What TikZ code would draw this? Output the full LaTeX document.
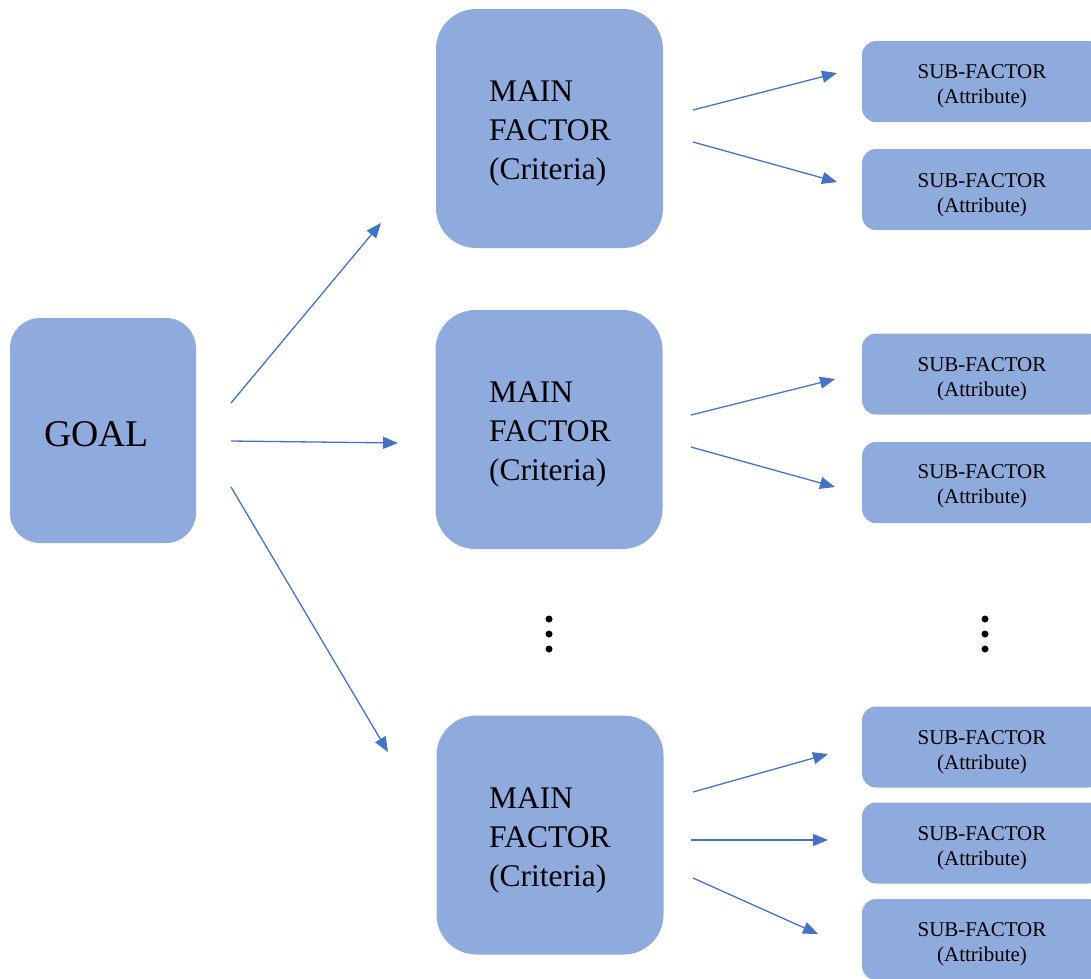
\documentclass[tikz,border=0pt]{standalone}
\usepackage{fontspec}
\setmainfont{Liberation Serif}
\usetikzlibrary{arrows.meta}
\definecolor{boxfill}{HTML}{8FAADC}
\definecolor{arrowblue}{HTML}{4472C4}
\begin{document}
\begin{tikzpicture}[x=1pt,y=-1pt,
  goalbox/.style={fill=boxfill,rounded corners=30pt,minimum width=186pt,minimum height=225pt,inner sep=0pt},
  mainbox/.style={fill=boxfill,rounded corners=40pt,minimum width=227pt,minimum height=239pt,inner sep=0pt},
  subbox/.style={fill=boxfill,rounded corners=14pt,minimum width=240pt,minimum height=81pt,inner sep=0pt},
  maintext/.style={anchor=west,align=left,font=\fontsize{31.5}{39}\selectfont,inner sep=0pt},
  subtext/.style={align=center,font=\fontsize{21}{25}\selectfont,inner sep=0pt},
  conn/.style={draw=arrowblue,line width=1.3pt,-{Triangle[length=15pt,width=12pt]}},
  dot/.style={circle,fill=black,minimum size=7pt,inner sep=0pt}
]
\useasboundingbox (0,0) rectangle (1091,978);
\begin{scope}
\clip (0,0) rectangle (1091,978);
% boxes
\node[goalbox] (goal) at (103,430.5) {};
\node[font=\fontsize{37.7}{44}\selectfont] (goaltxt) at (96.5,434) {GOAL};

\node[mainbox] (m1) at (549.5,128.5) {};
\node[maintext] (m1t) at (489,133) {MAIN\\FACTOR\\(Criteria)};
\node[mainbox] (m2) at (549,429.5) {};
\node[maintext] (m2t) at (489,434) {MAIN\\FACTOR\\(Criteria)};
\node[mainbox] (m3) at (550,835) {};
\node[maintext] (m3t) at (489,840) {MAIN\\FACTOR\\(Criteria)};

\node[subbox] (s1) at (982,81.5) {};
\node[subtext] (s1t) at (982,86) {SUB-FACTOR\\(Attribute)};
\node[subbox] (s2) at (982,189.5) {};
\node[subtext] (s2t) at (982,195) {SUB-FACTOR\\(Attribute)};
\node[subbox] (s3) at (982,374) {};
\node[subtext] (s3t) at (982,379) {SUB-FACTOR\\(Attribute)};
\node[subbox] (s4) at (982,482.5) {};
\node[subtext] (s4t) at (982,486) {SUB-FACTOR\\(Attribute)};
\node[subbox] (s5) at (982,747) {};
\node[subtext] (s5t) at (982,752) {SUB-FACTOR\\(Attribute)};
\node[subbox] (s6) at (982,843) {};
\node[subtext] (s6t) at (982,848) {SUB-FACTOR\\(Attribute)};
\node[subbox] (s7) at (982,939.5) {};
\node[subtext] (s7t) at (982,944) {SUB-FACTOR\\(Attribute)};
\end{scope}

% dots
\node[dot] (d1) at (549,619) {};
\node[dot] (d2) at (549,634) {};
\node[dot] (d3) at (549,649) {};
\node[dot] (e1) at (985,619) {};
\node[dot] (e2) at (985,634) {};
\node[dot] (e3) at (985,649) {};

% arrow end points
\coordinate (g1) at (231,403);
\coordinate (g2) at (231,441);
\coordinate (g3) at (231,487);
\coordinate (t1) at (381,223);
\coordinate (t2) at (398,443);
\coordinate (t3) at (388,752);

\coordinate (a1) at (693,110);  \coordinate (b1) at (837,73);
\coordinate (a2) at (693,142);  \coordinate (b2) at (837,182);
\coordinate (a3) at (691,415);  \coordinate (b3) at (835,379);
\coordinate (a4) at (691,447);  \coordinate (b4) at (835,487);
\coordinate (a5) at (693,792);  \coordinate (b5) at (828,754);
\coordinate (a6) at (691,840);  \coordinate (b6) at (828,840);
\coordinate (a7) at (693,878);  \coordinate (b7) at (818,934);

\draw[conn] (g1) -- (t1);
\draw[conn] (g2) -- (t2);
\draw[conn] (g3) -- (t3);
\draw[conn] (a1) -- (b1);
\draw[conn] (a2) -- (b2);
\draw[conn] (a3) -- (b3);
\draw[conn] (a4) -- (b4);
\draw[conn] (a5) -- (b5);
\draw[conn] (a6) -- (b6);
\draw[conn] (a7) -- (b7);
\end{tikzpicture}
\end{document}
